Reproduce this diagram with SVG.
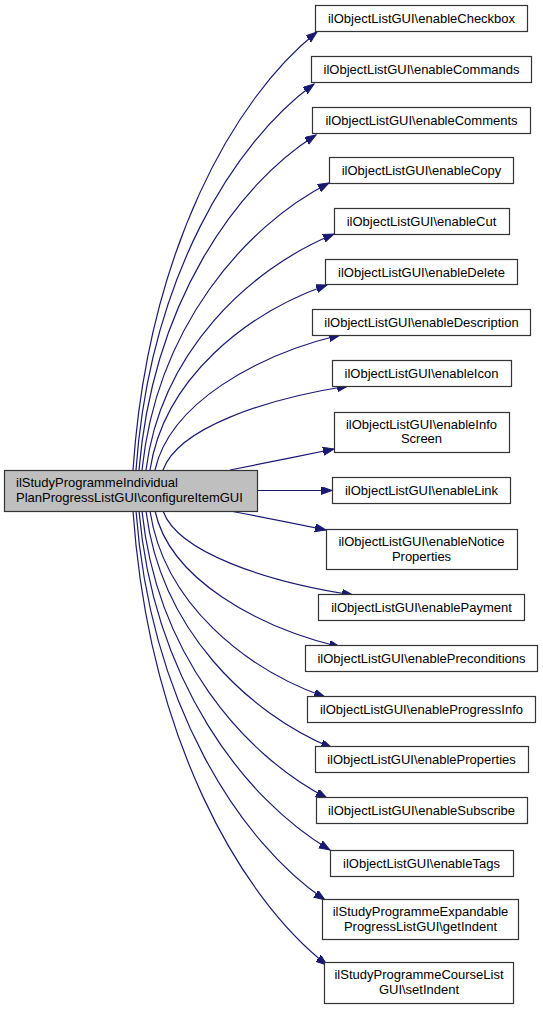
<svg xmlns="http://www.w3.org/2000/svg" width="543" height="1011" viewBox="0 0 543 1011">
<style>
.n rect{fill:#ffffff;stroke:#333333;stroke-width:1.2}
.n.root rect{fill:#bfbfbf}
.n text{font-family:"Liberation Sans",Arial,sans-serif;font-size:13px;fill:#000000}
.c{text-anchor:middle}
.e path{fill:none;stroke:#191970;stroke-width:1.2;marker-end:url(#ah)}
</style>
<defs>
<marker id="ah" markerUnits="userSpaceOnUse" markerWidth="12" markerHeight="9" refX="11" refY="4" orient="auto">
<path d="M0,0 L11,4 L0,8 z" fill="#191970" stroke="#191970" stroke-width="1"/>
</marker>
</defs>
<rect width="543" height="1011" fill="#ffffff"/>
<g id="edges" class="e">
<path d="M133,470 C148,251 234,98 317,32"/>
<path d="M136,470 C150,277 234,142 314,84"/>
<path d="M139,470 C153,303 236,185 316,135"/>
<path d="M142,470 C157,327 245,226 329,183"/>
<path d="M146,470 C161,352 249,269 334,234"/>
<path d="M150,470 C164,378 247,313 327,285"/>
<path d="M155,470 C170,403 257,355 340,335"/>
<path d="M163,470 C178,428 265,399 348,386"/>
<path d="M230,470 C260,464 300,456 334,449"/>
<path d="M257,490.5 L332,490.5"/>
<path d="M230,511 C262,517 297,524 326,530"/>
<path d="M163,511 C178,553 268,582 353,595"/>
<path d="M155,511 C170,579 257,627 340,647"/>
<path d="M150,511 C164,604 246,669 325,697"/>
<path d="M146,511 C161,630 248,713 332,748"/>
<path d="M142,511 C157,655 244,755 327,798"/>
<path d="M139,511 C154,681 244,799 330,850"/>
<path d="M136,511 C151,706 240,842 325,900"/>
<path d="M133,511 C149,738 240,897 327,965"/>
</g>
<g id="root" class="n root"><rect x="4.5" y="470.5" width="253" height="41"/><text x="16" y="487">ilStudyProgrammeIndividual</text><text x="16" y="501.5">PlanProgressListGUI\configureItemGUI</text></g>
<g id="n1" class="n"><rect x="315.5" y="5.5" width="212" height="26"/><text class="c" x="421.5" y="23">ilObjectListGUI\enableCheckbox</text></g>
<g id="n2" class="n"><rect x="311.5" y="56.5" width="220" height="26"/><text class="c" x="421.5" y="74">ilObjectListGUI\enableCommands</text></g>
<g id="n3" class="n"><rect x="312.5" y="107.5" width="218" height="26"/><text class="c" x="421.5" y="125">ilObjectListGUI\enableComments</text></g>
<g id="n4" class="n"><rect x="329.5" y="157.5" width="184" height="26"/><text class="c" x="421.5" y="175">ilObjectListGUI\enableCopy</text></g>
<g id="n5" class="n"><rect x="334.5" y="208.5" width="175" height="26"/><text class="c" x="421.5" y="226">ilObjectListGUI\enableCut</text></g>
<g id="n6" class="n"><rect x="325.5" y="259.5" width="192" height="25"/><text class="c" x="421.5" y="276.5">ilObjectListGUI\enableDelete</text></g>
<g id="n7" class="n"><rect x="312.5" y="309.5" width="218" height="26"/><text class="c" x="421.5" y="327">ilObjectListGUI\enableDescription</text></g>
<g id="n8" class="n"><rect x="332.5" y="360.5" width="179" height="26"/><text class="c" x="421.5" y="378">ilObjectListGUI\enableIcon</text></g>
<g id="n9" class="n"><rect x="334.5" y="412.5" width="175" height="40"/><text class="c" x="421.5" y="428.5">ilObjectListGUI\enableInfo</text><text class="c" x="421.5" y="443">Screen</text></g>
<g id="n10" class="n"><rect x="332.5" y="477.5" width="178" height="26"/><text class="c" x="421.5" y="495">ilObjectListGUI\enableLink</text></g>
<g id="n11" class="n"><rect x="326.5" y="529.5" width="191" height="40"/><text class="c" x="421.5" y="546">ilObjectListGUI\enableNotice</text><text class="c" x="421.5" y="560.5">Properties</text></g>
<g id="n12" class="n"><rect x="318.5" y="594.5" width="206" height="26"/><text class="c" x="421.5" y="612">ilObjectListGUI\enablePayment</text></g>
<g id="n13" class="n"><rect x="305.5" y="645.5" width="232" height="26"/><text class="c" x="421.5" y="663">ilObjectListGUI\enablePreconditions</text></g>
<g id="n14" class="n"><rect x="307.5" y="696.5" width="228" height="26"/><text class="c" x="421.5" y="714">ilObjectListGUI\enableProgressInfo</text></g>
<g id="n15" class="n"><rect x="315.5" y="746.5" width="213" height="26"/><text class="c" x="421.5" y="764">ilObjectListGUI\enableProperties</text></g>
<g id="n16" class="n"><rect x="316.5" y="797.5" width="211" height="26"/><text class="c" x="421.5" y="815">ilObjectListGUI\enableSubscribe</text></g>
<g id="n17" class="n"><rect x="330.5" y="850.5" width="183" height="26"/><text class="c" x="421.5" y="868">ilObjectListGUI\enableTags</text></g>
<g id="n18" class="n"><rect x="322.5" y="899.5" width="196" height="40"/><text class="c" x="420.5" y="916">ilStudyProgrammeExpandable</text><text class="c" x="420.5" y="930.5">ProgressListGUI\getIndent</text></g>
<g id="n19" class="n"><rect x="324.5" y="962.5" width="189" height="41"/><text class="c" x="419" y="979">ilStudyProgrammeCourseList</text><text class="c" x="419" y="993.5">GUI\setIndent</text></g>
</svg>
